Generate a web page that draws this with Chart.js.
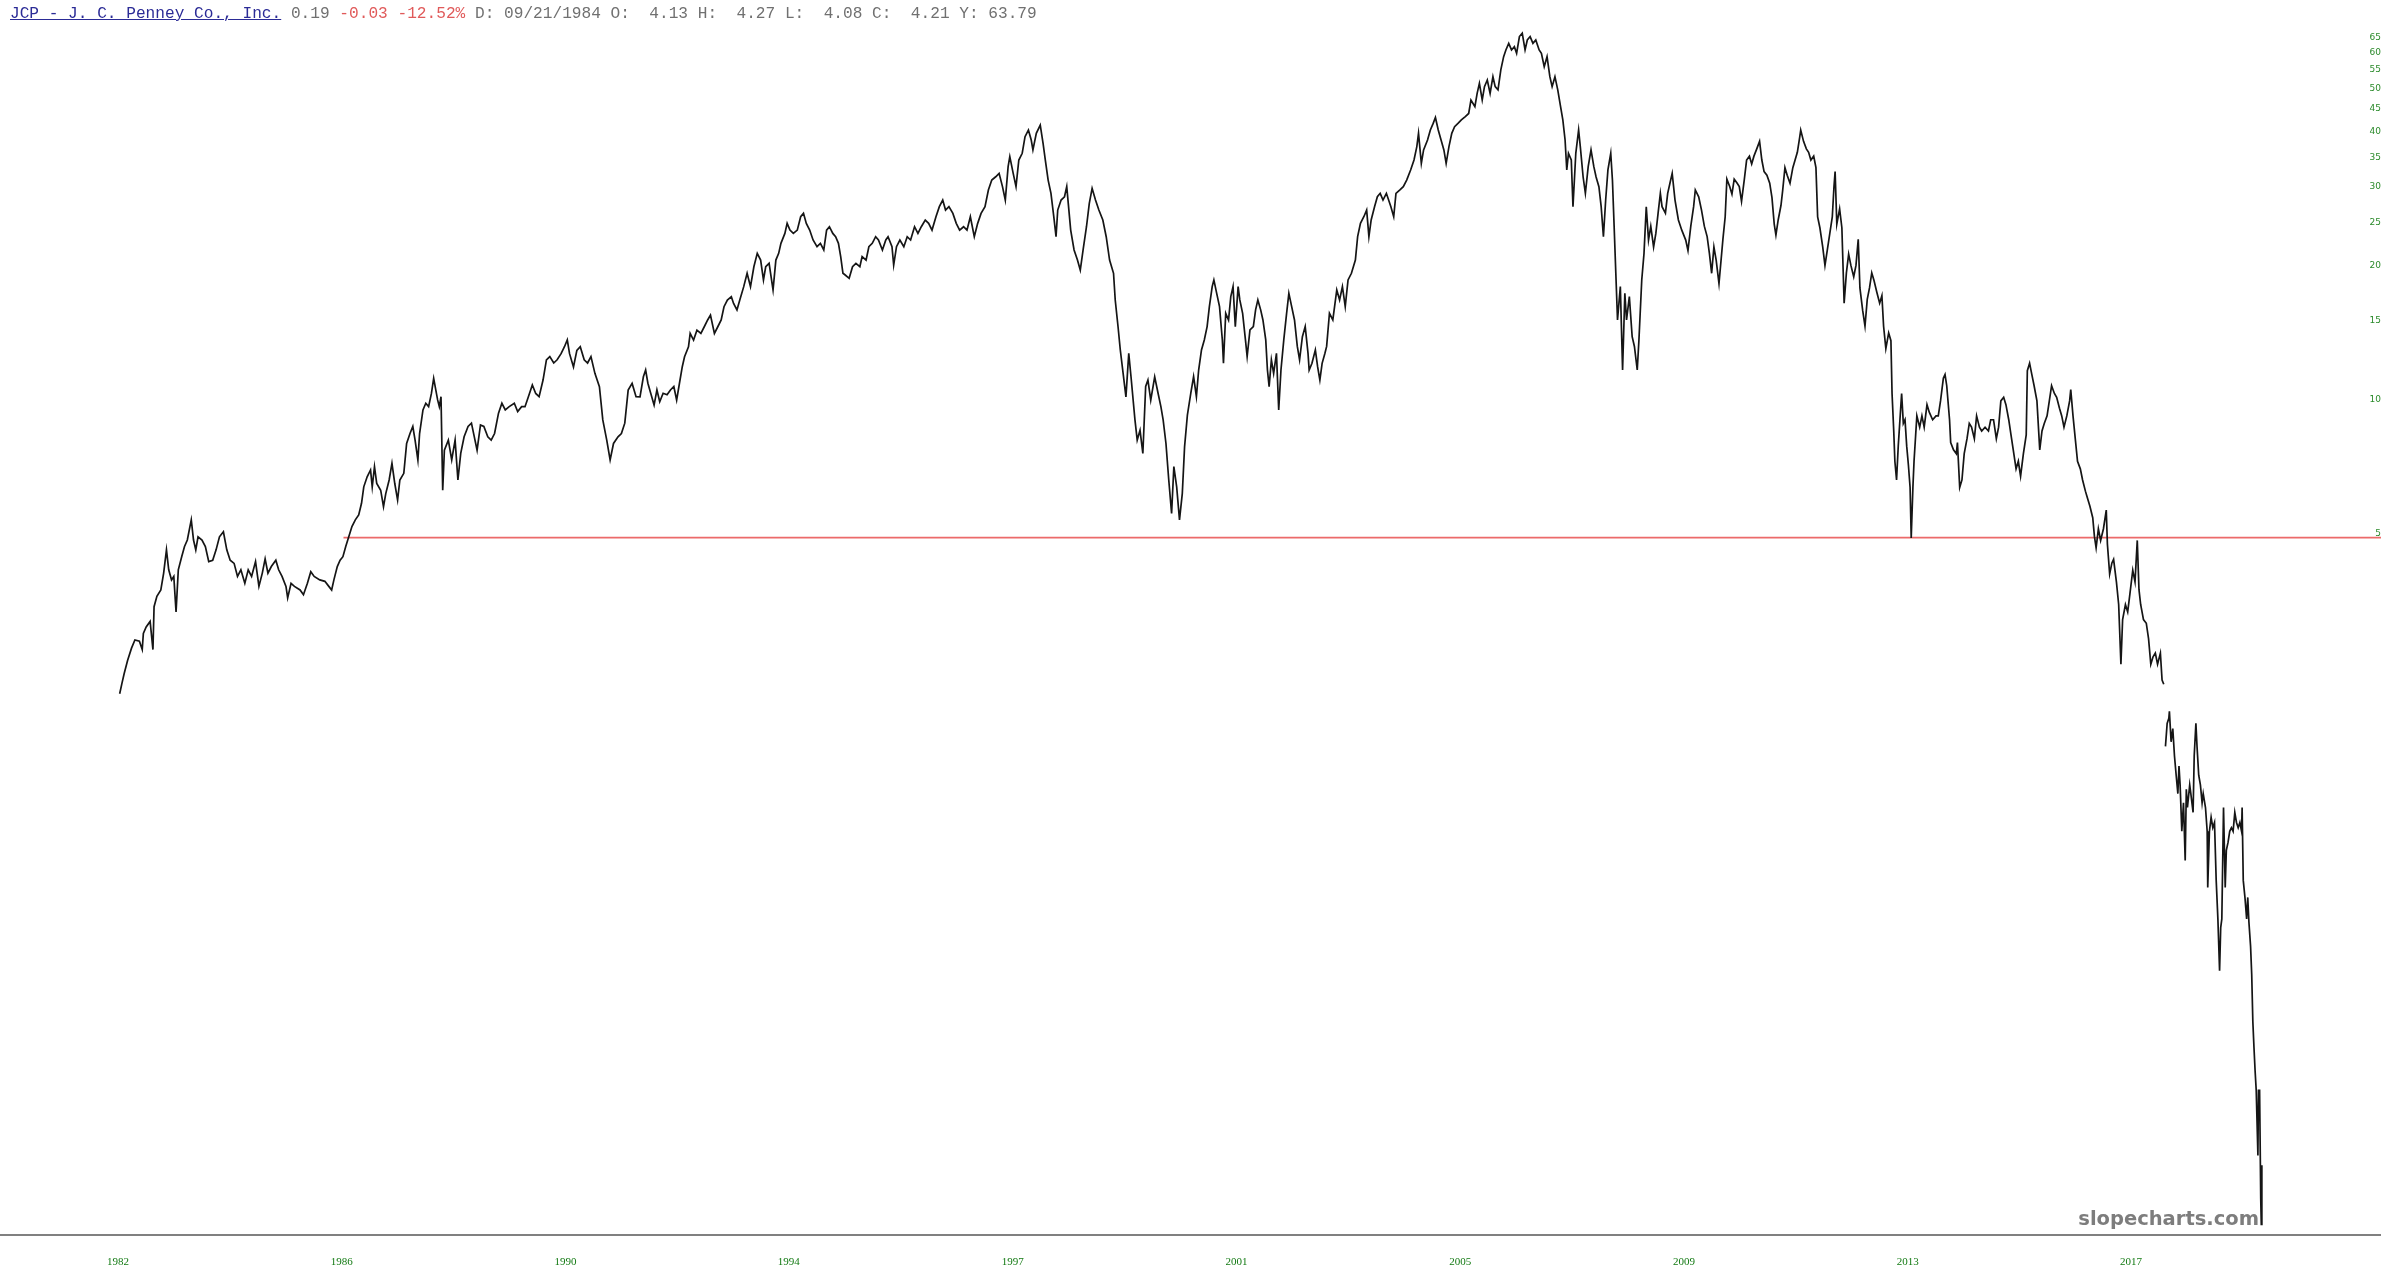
<!DOCTYPE html>
<html>
<head>
<meta charset="utf-8">
<title>JCP - J. C. Penney Co., Inc.</title>
<script src="https://cdn.jsdelivr.net/npm/chart.js@4.4.0/dist/chart.umd.min.js"></script>
<style>
  html, body { margin: 0; padding: 0; background: #fff; }
  .wrap { position: relative; width: 2381px; height: 1276px; overflow: hidden; }
  #chart { position: absolute; left: 0; top: 0; }
  .head { position: absolute; left: 10px; top: 5px; line-height: 18px; font-size: 16.15px;
          font-family: "Liberation Mono", "DejaVu Sans Mono", monospace; color: #707070; white-space: pre; }
  .head .sym { color: #2b2b96; text-decoration: underline; }
  .head .neg { color: #e05a5a; }
  .mark { position: absolute; right: 122px; top: 1207px; line-height: 20px;
          font: bold 19.5px "DejaVu Sans", sans-serif; color: #7d7d7d; }
</style>
</head>
<body>
<div class="wrap">
  <canvas id="chart" width="2381" height="1276"></canvas>
  <div class="head"><span class="sym">JCP - J. C. Penney Co., Inc.</span> 0.19 <span class="neg">-0.03 -12.52%</span> D: 09/21/1984 O:  4.13 H:  4.27 L:  4.08 C:  4.21 Y: 63.79</div>
  <div class="mark">slopecharts.com</div>
</div>
<script>
// trading time expressed as decimal years, price in dollars (log scale)
var years = [
  // 1982 - 1991
  1982.03,1982.07,1982.11,1982.17,1982.24,1982.30,1982.38,1982.43,1982.45,1982.50,
  1982.57,1982.62,1982.64,1982.69,1982.76,1982.81,1982.86,1982.90,1982.95,1982.99,
  1983.03,1983.07,1983.13,1983.18,1983.23,1983.30,1983.34,1983.38,1983.42,1983.49,
  1983.55,1983.61,1983.68,1983.74,1983.80,1983.87,1983.93,1983.99,1984.06,1984.12,
  1984.18,1984.25,1984.31,1984.37,1984.44,1984.50,1984.56,1984.61,1984.66,1984.72,
  1984.80,1984.85,1984.91,1984.98,1985.01,1985.07,1985.13,1985.23,1985.29,1985.36,
  1985.42,1985.48,1985.58,1985.67,1985.74,1985.79,1985.83,1985.89,1985.94,1985.99,
  1986.04,1986.08,1986.15,1986.21,1986.27,1986.32,1986.36,1986.42,1986.48,1986.51,
  1986.55,1986.59,1986.66,1986.71,1986.75,1986.81,1986.86,1986.91,1986.96,1987.00,
  1987.07,1987.12,1987.18,1987.23,1987.27,1987.32,1987.35,1987.41,1987.46,1987.51,
  1987.56,1987.60,1987.67,1987.70,1987.73,1987.76,1987.79,1987.86,1987.92,1987.98,
  1988.03,1988.08,1988.14,1988.21,1988.27,1988.37,1988.43,1988.49,1988.56,1988.62,
  1988.68,1988.75,1988.81,1988.87,1988.94,1989.03,1989.09,1989.16,1989.22,1989.28,
  1989.35,1989.41,1989.47,1989.54,1989.60,1989.66,1989.73,1989.79,1989.86,1989.92,
  1989.97,1990.01,1990.08,1990.14,1990.20,1990.27,1990.33,1990.39,1990.46,1990.54,
  1990.60,1990.67,1990.73,1990.79,1990.87,1990.93,1990.99,1991.05,1991.12,1991.19,
  // 1991 - 2000
  1991.26,1991.32,1991.36,1991.40,1991.45,1991.51,1991.56,1991.61,1991.67,1991.74,
  1991.80,1991.86,1991.91,1991.96,1992.01,1992.05,1992.12,1992.15,1992.21,1992.27,
  1992.34,1992.40,1992.46,1992.51,1992.58,1992.64,1992.70,1992.75,1992.81,1992.88,
  1992.92,1992.98,1993.03,1993.10,1993.16,1993.22,1993.28,1993.34,1993.40,1993.45,
  1993.49,1993.55,1993.62,1993.67,1993.72,1993.76,1993.83,1993.87,1993.92,1993.98,
  1994.05,1994.11,1994.16,1994.21,1994.27,1994.33,1994.40,1994.46,1994.52,1994.57,
  1994.62,1994.68,1994.73,1994.78,1994.82,1994.86,1994.90,1994.97,1995.03,1995.09,
  1995.16,1995.20,1995.27,1995.32,1995.38,1995.44,1995.49,1995.56,1995.62,1995.66,
  1995.73,1995.76,1995.81,1995.87,1995.94,1996.00,1996.06,1996.13,1996.19,1996.25,
  1996.32,1996.38,1996.44,1996.51,1996.57,1996.63,1996.68,1996.74,1996.81,1996.87,
  1996.93,1997.00,1997.06,1997.12,1997.19,1997.25,1997.31,1997.38,1997.44,1997.50,
  1997.57,1997.63,1997.69,1997.74,1997.79,1997.82,1997.88,1997.93,1997.98,1998.04,
  1998.09,1998.15,1998.20,1998.23,1998.29,1998.36,1998.41,1998.45,1998.50,1998.55,
  1998.60,1998.64,1998.67,1998.73,1998.79,1998.83,1998.90,1998.96,1999.02,1999.07,
  1999.12,1999.18,1999.23,1999.28,1999.34,1999.40,1999.47,1999.53,1999.59,1999.66,
  1999.69,1999.74,1999.78,1999.83,1999.88,1999.93,1999.97,2000.04,2000.08,2000.13,
  2000.18,2000.23,2000.27,2000.32,2000.39,2000.45,2000.50,2000.54,2000.59,2000.64,
  2000.69,2000.73,2000.78,2000.83,2000.88,2000.92,
  // 2001 - 2010
  2000.97,2001.03,2001.08,2001.13,2001.17,2001.22,2001.27,2001.32,2001.36,2001.41,
  2001.44,2001.49,2001.54,2001.59,2001.61,2001.65,2001.70,2001.74,2001.78,2001.82,
  2001.87,2001.90,2001.95,2002.00,2002.03,2002.08,2002.14,2002.18,2002.22,2002.27,
  2002.31,2002.36,2002.39,2002.42,2002.46,2002.50,2002.55,2002.59,2002.63,2002.68,
  2002.73,2002.77,2002.82,2002.87,2002.92,2002.96,2003.01,2003.06,2003.11,2003.13,
  2003.18,2003.24,2003.28,2003.32,2003.36,2003.41,2003.44,2003.49,2003.55,2003.62,
  2003.67,2003.72,2003.77,2003.82,2003.88,2003.95,2003.99,2004.04,2004.10,2004.15,
  2004.19,2004.23,2004.29,2004.34,2004.39,2004.44,2004.50,2004.58,2004.63,2004.67,
  2004.74,2004.80,2004.86,2004.93,2004.99,2005.04,2005.07,2005.12,2005.16,2005.23,
  2005.28,2005.33,2005.37,2005.42,2005.47,2005.52,2005.56,2005.61,2005.66,2005.71,
  2005.77,2005.83,2005.90,2005.96,2006.00,2006.07,2006.11,2006.15,2006.20,2006.24,
  2006.29,2006.34,2006.39,2006.43,2006.48,2006.53,2006.58,2006.62,2006.67,2006.72,
  2006.77,2006.81,2006.86,2006.91,2006.96,2007.00,2007.05,2007.10,2007.15,2007.21,
  2007.25,2007.30,2007.35,2007.40,2007.44,2007.49,2007.54,2007.59,2007.63,2007.67,
  2007.70,2007.73,2007.78,2007.81,2007.86,2007.91,2007.94,2007.99,2008.03,2008.08,
  2008.13,2008.18,2008.22,2008.27,2008.31,2008.35,2008.39,2008.43,2008.48,2008.51,
  2008.54,2008.57,2008.60,2008.65,2008.69,2008.73,2008.76,2008.81,2008.86,2008.90,
  2008.95,2008.98,2009.03,2009.07,2009.11,2009.15,2009.19,2009.24,2009.28,2009.32,
  2009.36,2009.39,2009.45,2009.49,2009.53,2009.57,2009.62,2009.68,2009.74,2009.81,
  2009.85,2009.90,2009.95,2009.98,2010.04,2010.09,2010.14,2010.19,2010.23,2010.27,
  2010.31,2010.35,2010.40,
  // 2010 - 2018
  2010.47,2010.51,2010.54,2010.59,2010.63,2010.67,2010.72,2010.76,2010.80,2010.85,
  2010.89,2010.94,2010.98,2011.02,2011.07,2011.12,2011.16,2011.20,2011.25,2011.30,
  2011.34,2011.38,2011.41,2011.45,2011.50,2011.53,2011.57,2011.61,2011.66,2011.71,
  2011.75,2011.79,2011.83,2011.85,2011.90,2011.95,2011.99,2012.03,2012.08,2012.12,
  2012.15,2012.19,2012.24,2012.28,2012.32,2012.37,2012.41,2012.44,2012.46,2012.49,
  2012.54,2012.58,2012.62,2012.66,2012.70,2012.74,2012.79,2012.83,2012.87,2012.90,
  2012.95,2012.99,2013.03,2013.07,2013.11,2013.15,2013.20,2013.25,2013.29,2013.32,
  2013.36,2013.41,2013.45,2013.47,2013.50,2013.52,2013.55,2013.58,2013.61,2013.64,
  2013.67,2013.70,2013.73,2013.76,2013.79,2013.81,2013.84,2013.86,2013.91,2013.96,
  2014.00,2014.04,2014.09,2014.13,2014.19,2014.25,2014.29,2014.33,2014.38,2014.41,
  2014.44,2014.49,2014.51,2014.56,2014.61,2014.63,2014.67,2014.71,2014.75,2014.80,
  2014.84,2014.88,2014.93,2014.97,2015.02,2015.06,2015.12,2015.18,2015.22,2015.27,
  2015.32,2015.36,2015.40,2015.45,2015.49,2015.54,2015.58,2015.62,2015.67,2015.71,
  2015.75,2015.80,2015.85,2015.87,2015.91,2015.95,2015.99,2016.04,2016.09,2016.13,
  2016.17,2016.22,2016.26,2016.30,2016.35,2016.39,2016.44,2016.48,2016.52,2016.57,
  2016.62,2016.64,2016.68,2016.72,2016.76,2016.81,2016.85,2016.90,2016.94,2016.98,
  2017.03,2017.06,2017.09,2017.13,2017.17,2017.22,2017.27,2017.29,2017.33,2017.37,
  2017.40,2017.45,2017.49,2017.53,2017.56,2017.61,2017.65,2017.69,2017.74,2017.78,
  2017.82,2017.85,2017.88,2017.93,2017.98,2018.02,2018.06,2018.10,2018.14,2018.18,
  2018.23,
  // 2018 - 2020 (one missing stretch in the feed)
  2018.26,2018.29,2018.30,2018.32,2018.35,2018.38,2018.39,2018.42,2018.45,2018.48,
  2018.51,2018.54,2018.56,2018.58,2018.61,2018.64,2018.67,2018.69,2018.71,2018.75,
  2018.77,2018.81,2018.83,2018.86,2018.88,2018.91,2018.94,2018.97,2018.99,2019.03,
  2019.06,2019.07,2019.10,2019.13,2019.16,2019.19,2019.22,2019.25,2019.28,2019.30,
  2019.32,2019.35,2019.38,2019.40,2019.43,2019.46,2019.49,2019.52,2019.55,2019.58,
  2019.61,2019.64,2019.67,2019.68,2019.70,2019.73,2019.76,2019.78,2019.80,2019.83,
  2019.85,2019.87,2019.89,2019.91,2019.93,2019.96,2019.97,2019.99,2020.01,2020.02,
  2020.03
];

var prices = [
  // 1982 - 1991
  2.18,2.30,2.42,2.59,2.76,2.88,2.86,2.74,2.98,3.08,
  3.17,2.74,3.42,3.61,3.73,4.07,4.59,4.14,3.93,4.00,
  3.33,4.14,4.43,4.67,4.83,5.36,4.83,4.59,4.91,4.83,
  4.67,4.32,4.35,4.59,4.91,5.04,4.59,4.35,4.28,4.00,
  4.14,3.86,4.14,4.00,4.32,3.80,4.07,4.38,4.07,4.21,
  4.35,4.14,4.00,3.80,3.58,3.86,3.80,3.73,3.64,3.86,
  4.10,4.00,3.93,3.90,3.80,3.73,3.93,4.21,4.35,4.43,
  4.67,4.85,5.18,5.36,5.50,5.84,6.36,6.70,6.94,6.36,
  7.06,6.47,6.25,5.74,6.14,6.59,7.18,6.47,5.94,6.59,
  6.82,7.96,8.38,8.69,8.10,7.31,8.38,9.47,9.80,9.63,
  10.31,11.15,9.97,9.63,10.14,6.25,7.69,8.10,7.31,8.10,
  6.59,7.56,8.24,8.69,8.84,7.69,8.76,8.69,8.24,8.10,
  8.38,9.31,9.80,9.47,9.63,9.80,9.39,9.63,9.63,10.14,
  10.77,10.31,10.14,11.05,12.27,12.48,12.07,12.27,12.67,13.13,
  13.60,12.67,11.83,12.89,13.13,12.27,12.07,12.48,11.44,10.68,
  8.99,8.10,7.31,7.96,8.24,8.38,8.84,10.49,10.86,10.14,
  // 1991 - 2000
  10.13,11.24,11.64,10.87,10.32,9.71,10.50,9.88,10.32,10.24,
  10.50,10.69,9.96,10.87,11.84,12.47,13.13,14.07,13.59,14.31,
  14.07,14.56,15.08,15.47,14.07,14.56,15.08,16.15,16.72,17.01,
  16.43,15.88,16.72,17.92,19.20,17.92,19.86,21.29,20.56,18.55,
  19.86,20.21,17.61,20.56,21.29,22.42,23.60,24.86,24.01,23.60,
  24.01,25.73,26.18,24.86,24.01,22.81,22.03,22.42,21.66,24.01,
  24.43,23.60,23.20,22.42,20.93,19.20,19.03,18.71,19.86,20.21,
  19.86,20.93,20.56,22.03,22.42,23.20,22.81,21.66,22.81,23.20,
  22.03,20.03,22.03,22.81,22.03,23.20,22.81,24.43,23.60,24.43,
  25.29,24.86,24.01,25.73,27.10,28.05,26.63,27.10,26.18,24.86,
  24.01,24.43,24.01,25.73,23.20,24.86,26.18,27.10,29.55,31.10,
  31.64,32.20,30.07,28.05,33.33,35.10,32.20,30.07,34.50,35.73,
  38.93,40.30,38.27,36.35,39.61,41.34,37.62,34.50,31.10,29.04,
  25.73,23.20,26.63,28.05,28.53,30.07,24.01,21.66,20.56,19.52,
  21.66,24.43,27.57,29.80,28.05,26.63,25.29,23.20,20.56,19.20,
  16.72,14.56,12.91,11.44,10.13,12.69,11.24,8.99,8.10,8.52,
  7.56,10.69,11.05,9.96,11.24,10.32,9.63,8.99,7.96,6.58,
  5.54,7.06,6.36,5.36,6.15,7.82,
  // 2001 - 2010
  9.22,10.32,11.25,10.14,11.64,12.91,13.60,14.57,16.16,17.92,
  18.55,17.31,16.16,13.60,12.05,15.61,15.08,17.02,17.92,14.57,
  17.92,16.73,15.61,13.60,12.48,14.33,14.57,15.89,16.73,15.89,
  15.08,13.60,11.64,10.68,12.27,11.44,12.69,9.47,11.64,13.60,
  15.61,17.31,16.16,15.08,13.15,12.27,13.83,14.57,12.69,11.64,
  12.05,12.91,11.84,11.05,12.05,12.69,13.15,15.61,15.08,17.61,
  16.73,17.92,16.16,18.55,19.20,20.56,23.21,24.86,25.73,26.63,
  23.21,25.30,27.10,28.53,29.04,28.05,29.04,27.10,25.73,29.04,
  29.55,30.06,31.10,32.77,34.50,36.98,39.61,33.90,36.35,38.27,
  40.30,41.70,43.00,40.30,38.27,36.35,33.90,36.98,39.61,41.00,
  41.70,42.45,43.20,43.90,47.06,45.50,48.70,51.30,47.10,50.44,
  52.20,48.70,53.10,50.44,49.60,55.00,58.90,60.98,63.10,60.98,
  62.00,59.94,65.35,66.50,60.98,64.20,65.35,63.10,64.20,60.98,
  59.94,55.90,58.90,53.10,50.44,53.10,49.60,45.50,42.45,38.27,
  32.77,35.72,34.50,27.10,35.72,40.30,36.98,31.60,29.04,33.34,
  36.35,33.34,31.60,30.06,27.10,23.21,28.05,32.77,35.72,31.10,
  24.50,19.20,15.08,17.92,11.64,17.31,15.08,17.02,13.83,13.15,
  11.64,13.60,18.55,21.29,27.10,22.80,24.50,22.00,23.60,26.20,
  29.04,27.10,26.20,29.04,30.60,32.20,28.05,25.30,24.00,22.80,
  21.60,24.50,27.10,29.55,28.53,26.63,24.50,23.21,21.29,19.20,
  22.00,20.56,18.20,
  // 2010 - 2018
  22.92,25.72,31.24,30.08,28.91,31.24,30.63,30.08,27.85,31.24,
  34.50,35.20,33.80,35.20,36.55,38.00,34.50,32.50,31.90,30.60,
  28.40,24.77,23.40,25.30,27.30,29.50,33.16,31.90,30.60,33.16,
  34.50,35.90,38.70,40.29,38.00,36.55,35.90,34.50,35.20,33.16,
  25.70,24.30,22.00,20.00,21.60,23.80,25.70,30.08,32.50,24.77,
  26.80,24.30,16.45,19.24,21.20,20.00,18.86,20.00,22.90,17.80,
  15.80,14.60,16.78,17.80,19.24,18.49,17.40,16.45,17.10,14.60,
  13.00,14.10,13.55,10.31,8.49,7.26,6.59,7.85,9.00,10.31,
  8.83,9.00,7.85,7.12,6.34,4.88,6.34,7.26,9.18,8.66,
  9.18,8.66,9.73,9.36,9.00,9.18,9.18,9.92,11.15,11.37,
  10.73,9.00,8.00,7.70,7.55,8.00,6.34,6.59,7.55,8.16,
  8.83,8.66,8.16,9.18,8.66,8.49,8.66,8.49,9.00,9.00,
  8.16,8.66,9.92,10.11,9.73,9.00,8.32,7.70,6.98,7.26,
  6.72,7.55,8.32,11.60,12.05,11.37,10.73,9.92,7.70,8.49,
  8.83,9.18,9.92,10.73,10.31,10.11,9.55,9.18,8.66,9.18,
  9.92,10.52,9.18,8.16,7.26,6.98,6.59,6.22,5.98,5.75,
  5.42,4.92,4.64,5.12,4.82,5.12,5.64,4.73,4.05,4.29,
  4.37,3.89,3.46,2.54,3.20,3.46,3.33,3.66,4.13,3.89,
  4.82,3.74,3.46,3.20,3.14,2.90,2.54,2.64,2.69,2.54,
  2.69,
  // 2018 - 2020
  2.34,2.29,null,1.66,1.87,1.92,1.99,1.70,1.82,1.58,
  1.43,1.30,1.50,1.36,1.07,1.24,0.92,1.33,1.21,1.36,
  1.30,1.18,1.58,1.87,1.66,1.43,1.36,1.24,1.30,1.21,
  1.07,0.80,1.07,1.15,1.09,1.12,0.83,0.68,0.52,0.65,
  0.68,1.21,0.80,0.97,1.01,1.07,1.09,1.07,1.18,1.12,
  1.09,1.12,1.07,1.21,0.83,0.76,0.68,0.76,0.67,0.59,
  0.51,0.40,0.35,0.31,0.28,0.20,0.28,0.28,0.16,0.14,
  0.19
];

// horizontal level drawn on the chart
var levelValue = 4.89;
var levelStart = 1986.0;
var levelEnd = 2022.6;

// axis ticks
var yTickValues = [5, 10, 15, 20, 25, 30, 35, 40, 45, 50, 55, 60, 65];
var xTickPos = [1982.0, 1985.97, 1989.94, 1993.90, 1997.87, 2001.84, 2005.81, 2009.78, 2013.75, 2017.71];
var xTickLabels = ['1982', '1986', '1990', '1994', '1997', '2001', '2005', '2009', '2013', '2017'];

var series = years.map(function (yr, i) { return { x: yr, y: prices[i] }; });

// grey base line running the full width of the picture
var baseLine = {
  id: 'baseLine',
  afterDraw: function (chart) {
    var ctx = chart.ctx;
    var y = chart.chartArea.bottom;
    ctx.save();
    ctx.strokeStyle = '#808080';
    ctx.lineWidth = 2;
    ctx.beginPath();
    ctx.moveTo(0, y);
    ctx.lineTo(chart.width, y);
    ctx.stroke();
    ctx.restore();
  }
};

new Chart(document.getElementById('chart'), {
  type: 'line',
  data: {
    datasets: [
      {
        data: series,
        borderColor: '#151515',
        borderWidth: 1.7,
        pointRadius: 0,
        tension: 0,
        spanGaps: false
      },
      {
        data: [{ x: levelStart, y: levelValue }, { x: levelEnd, y: levelValue }],
        borderColor: '#ec6a6a',
        borderWidth: 1.6,
        pointRadius: 0,
        clip: false
      }
    ]
  },
  options: {
    responsive: false,
    animation: false,
    layout: { padding: { top: 20, left: 0, right: 0, bottom: 0 } },
    plugins: { legend: { display: false }, tooltip: { enabled: false } },
    scales: {
      x: {
        type: 'linear',
        min: 1979.907,
        max: 2021.70,
        grid: { display: false },
        border: { display: false },
        afterFit: function (scale) { scale.height = 41; },
        afterBuildTicks: function (scale) {
          scale.ticks = xTickPos.map(function (v) { return { value: v }; });
        },
        ticks: {
          autoSkip: false,
          maxRotation: 0,
          padding: 13,
          color: '#137a13',
          font: { family: 'Liberation Serif', size: 11 },
          callback: function (value, index) { return xTickLabels[index]; }
        }
      },
      y: {
        type: 'logarithmic',
        position: 'right',
        min: 0.1325,
        max: 71.2,
        grid: { display: false, drawTicks: false },
        border: { display: false },
        afterFit: function (scale) { scale.width = 25; },
        afterBuildTicks: function (scale) {
          scale.ticks = yTickValues.map(function (v) { return { value: v }; });
        },
        ticks: {
          crossAlign: 'far',
          padding: 4,
          color: '#2a8a2a',
          font: { family: 'DejaVu Sans', size: 9 },
          callback: function (value) { return String(value); }
        }
      }
    }
  },
  plugins: [baseLine]
});
</script>
</body>
</html>
